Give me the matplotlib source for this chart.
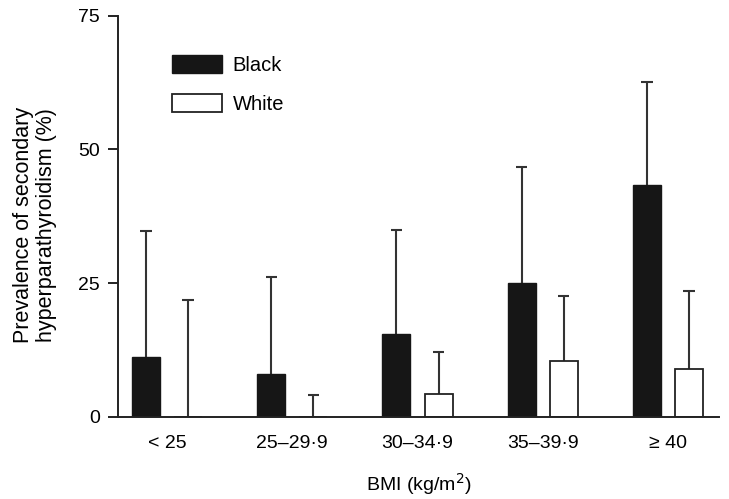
import numpy as np
import matplotlib.pyplot as plt
from matplotlib.patches import Patch

plt.rcParams['font.family'] = ['Liberation Sans', 'DejaVu Sans']

# BMI gruplari ve degerler (okunan)
categories = ['< 25', '25\u201329\u00b79', '30\u201334\u00b79', '35\u201339\u00b79', '\u2265 40']
black_vals = [11.2, 8.0, 15.4, 25.0, 43.3]
black_upper = [34.7, 26.1, 34.9, 46.7, 62.6]
white_vals = [0.0, 0.0, 4.3, 10.5, 8.9]
white_upper = [21.8, 4.1, 12.1, 22.6, 23.6]

x = np.arange(len(categories))
w = 0.224
off = 0.168
cap = 0.045

fig = plt.figure(figsize=(7.29, 4.99), dpi=100)
ax = fig.add_axes([118 / 729, 1 - 416.7 / 499, (719 - 118) / 729, (416.7 - 15.7) / 499])

ax.bar(x - off, black_vals, w, color='#161616', edgecolor='#161616', linewidth=1.0, zorder=2)
ax.bar(x + off, white_vals, w, color='white', edgecolor='#222222', linewidth=1.3, zorder=2)

# sadece yukari hata cubuklari
for xs, lo, hi in [(x - off, black_vals, black_upper), (x + off, white_vals, white_upper)]:
    ax.vlines(xs, lo, hi, color='#333333', linewidth=1.5, zorder=1)
    ax.hlines(hi, xs - cap, xs + cap, color='#333333', linewidth=1.5, zorder=1)

ax.set_xlim(-0.392, 4.408)
ax.set_ylim(0, 75)
ax.set_yticks([0, 25, 50, 75])
ax.set_xticks(x)
ax.set_xticklabels(categories)

for s in ['top', 'right']:
    ax.spines[s].set_visible(False)
for s in ['left', 'bottom']:
    ax.spines[s].set_linewidth(1.4)
    ax.spines[s].set_color('#222222')

ax.tick_params(axis='y', length=7, width=1.4, pad=6, labelsize=14, color='#222222')
ax.tick_params(axis='x', length=0, pad=13, labelsize=14)

ax.set_xlabel('BMI (kg/m$^2$)', fontsize=14, labelpad=14)
ax.set_ylabel('Prevalence of secondary\nhyperparathyroidism (%)', fontsize=15.5,
              linespacing=1.1)
ax.yaxis.set_label_coords(-0.102, 0.478)

handles = [Patch(facecolor='#161616', edgecolor='#161616', label='Black'),
           Patch(facecolor='white', edgecolor='#222222', linewidth=1.3, label='White')]
leg = ax.legend(handles=handles, loc='upper left', bbox_to_anchor=(172 / 729, 1 - 55 / 499),
                bbox_transform=fig.transFigure, frameon=False, fontsize=14.5,
                handlelength=2.5, handleheight=1.0, labelspacing=0.95,
                handletextpad=0.5, borderpad=0, borderaxespad=0)

fig.savefig('out.png', dpi=100)
